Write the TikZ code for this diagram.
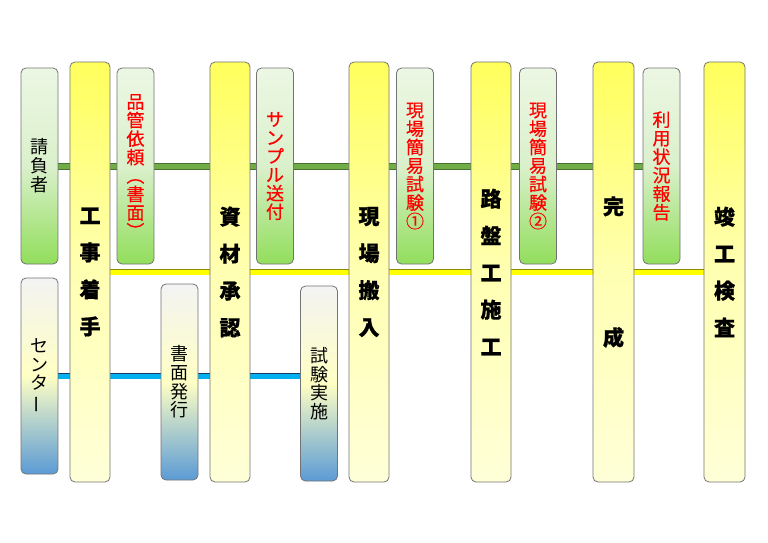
\documentclass[tikz,border=0pt]{standalone}
\usepackage{fontspec}
\setmainfont{Noto Sans CJK JP}
\newfontfamily\jpmid[FakeBold=0.5]{Noto Sans CJK JP}
\newfontfamily\jpheavy[BoldFeatures={FakeBold=0.8}]{Noto Sans CJK JP}
\usetikzlibrary{backgrounds}
\definecolor{gtop}{RGB}{236,247,228}
\definecolor{gmid}{RGB}{218,240,203}
\definecolor{gbot}{RGB}{146,222,92}
\definecolor{ytop}{RGB}{255,255,92}
\definecolor{ymid}{RGB}{255,255,178}
\definecolor{ybot}{RGB}{255,255,216}
\definecolor{btop}{RGB}{243,243,243}
\definecolor{bmid}{RGB}{255,255,196}
\definecolor{bbot}{RGB}{91,155,213}
\definecolor{boxline}{RGB}{115,115,115}
\definecolor{gline}{RGB}{112,173,71}
\definecolor{glineb}{RGB}{72,112,46}
\definecolor{yline}{RGB}{255,255,0}
\definecolor{ylineb}{RGB}{140,140,0}
\definecolor{bline}{RGB}{0,176,240}
\definecolor{blineb}{RGB}{25,60,95}
\definecolor{redtext}{RGB}{255,0,0}
\tikzset{
  bar/.style={draw=boxline, line width=0.8pt, rounded corners=5pt, inner sep=0pt, outer sep=0pt, align=center},
  greenbar/.style={bar, minimum width=37pt, minimum height=196pt, top color=gtop, bottom color=gbot, middle color=gmid},
  yellowbar/.style={bar, minimum width=40pt, minimum height=420pt, top color=ytop, bottom color=ybot, middle color=ymid,
     font=\jpheavy\bfseries\fontsize{21}{37}\selectfont},
  bluebar/.style={bar, minimum width=37pt, minimum height=196pt, top color=btop, bottom color=bbot, middle color=bmid,
     font=\fontsize{18}{18.6}\selectfont},
  redlabel/.style={text=redtext, font=\jpmid\fontsize{18}{18.5}\selectfont},
  blacklabel/.style={text=black, font=\fontsize{18}{19}\selectfont},
  gconn/.style={draw=glineb, line width=1pt, double=gline, double distance=5pt},
  yconn/.style={draw=ylineb, line width=0.9pt, double=yline, double distance=5pt},
  bconn/.style={draw=blineb, line width=0.9pt, double=bline, double distance=5pt},
}
\begin{document}
\begin{tikzpicture}[x=1pt, y=-1pt]
\useasboundingbox (0,0) rectangle (768,542);
% green (upper) boxes
\node[greenbar, blacklabel] (ukeoi) at (39.5,166) {請\\負\\者};
\node[greenbar, redlabel] (hinkan) at (135.5,166) {品\\管\\依\\頼\\︵\\書\\面\\︶};
\node[greenbar, redlabel] (sample) at (275,166) {サ\\ン\\プ\\ル\\送\\付};
\node[greenbar, redlabel] (kani1) at (415,166) {現\\場\\簡\\易\\試\\験\\①};
\node[greenbar, redlabel] (kani2) at (538,166) {現\\場\\簡\\易\\試\\験\\②};
\node[greenbar, redlabel] (riyou) at (661.5,166) {利\\用\\状\\況\\報\\告};
% yellow (main) bars
\node[yellowbar] (kouji) at (90,272) {工\\事\\着\\手};
\node[yellowbar] (shizai) at (230,272) {資\\材\\承\\認};
\node[yellowbar] (genba) at (369,272) {現\\場\\搬\\入};
\node[yellowbar] (roban) at (491,272) {路\\盤\\工\\施\\工};
\node[yellowbar, minimum width=41pt, font=\jpheavy\bfseries\fontsize{21}{131}\selectfont] (kansei) at (613.5,272) {完\\成};
\node[yellowbar, minimum width=41pt] (shunkou) at (724.5,272) {竣\\工\\検\\査};
% blue (lower) boxes
\node[bluebar] (center) at (39.5,376) {セ\\ン\\タ\\\rotatebox[origin=c]{90}{ー}};
\node[bluebar] (shomen) at (179.5,382) {書\\面\\発\\行};
\node[bluebar, minimum height=195pt] (shiken) at (319,383.5) {試\\験\\実\\施};
% connectors behind the bars
\begin{scope}[on background layer]
\fill[white] (0,0) rectangle (768,542);
\draw[gconn] (ukeoi.east) -- (riyou.west);
\draw[yconn] (kouji.east) -- (shunkou.west);
\draw[bconn] (center.east) -- (shiken.west |- center.east);
\end{scope}
\end{tikzpicture}
\end{document}
